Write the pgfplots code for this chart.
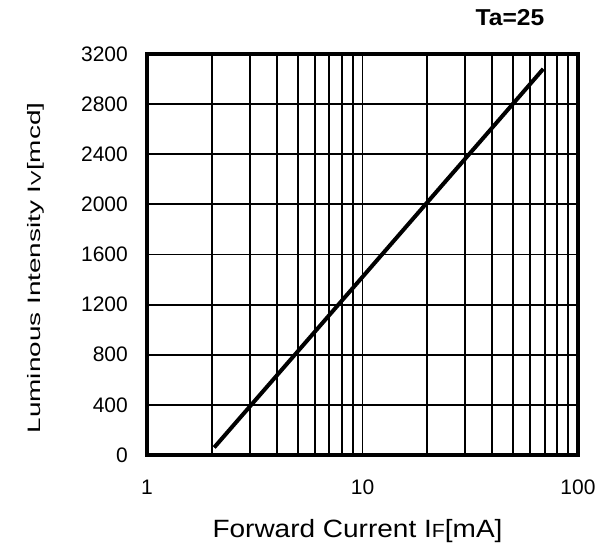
\documentclass[border=0pt]{standalone}
\usepackage{pgfplots}
\pgfplotsset{compat=1.18}
\usepackage{graphicx}
\usepackage{fontspec}
\setmainfont{Liberation Sans}
\begin{document}
\begin{tikzpicture}[x=1pt,y=1pt]
\useasboundingbox (0,0) rectangle (612,546);
\begin{axis}[
  at={(147pt,91pt)}, anchor=south west,
  scale only axis, width=431pt, height=401pt,
  xmode=log, log basis x=10,
  xmin=1, xmax=100, ymin=0, ymax=3200,
  xtick={1,10,100}, xticklabels={1,10,100},
  minor xtick={2,3,4,5,6,7,8,9,20,30,40,50,60,70,80,90},
  ytick={0,400,...,3200},
  grid=both,
  major grid style={black, line width=1.8pt},
  minor grid style={black, line width=1.8pt},
  axis line style={black, line width=3.8pt},
  tick style={draw=none},
  /pgf/number format/assume math mode=true,
  /pgf/number format/1000 sep={},
  ticklabel style={font=\fontsize{21}{24}\selectfont},
  xticklabel style={anchor=center, yshift=-32pt},
  yticklabel style={anchor=east, inner sep=0pt, xshift=-19pt},
  xlabel={\scalebox{1.12}[1]{Forward Current I{\fontsize{19}{22}\selectfont F}[mA]}},
  ylabel={\scalebox{1.55}[1]{Luminous Intensity I{\fontsize{14}{16}\selectfont V}[mcd]}},
  xlabel style={font=\fontsize{25}{28}\selectfont, at={(axis description cs:0.5,0)}, anchor=base, inner sep=0pt, yshift=-82pt, xshift=-5pt},
  ylabel style={font=\fontsize{18}{21}\selectfont, at={(axis description cs:0,0.5)}, anchor=base, inner sep=0pt, yshift=106pt, xshift=-13.5pt},
  clip=false,
]
\addplot[black, line width=4pt, line cap=butt] coordinates {
  (2.05,60) (3,387) (10,1421) (20,2017) (50,2804) (69,3081)
};
\end{axis}
\node[font=\bfseries\fontsize{23}{26}\selectfont, anchor=center, inner sep=0pt] at (510,528) {\scalebox{1.07}[1]{Ta=25}};
\end{tikzpicture}
\end{document}
